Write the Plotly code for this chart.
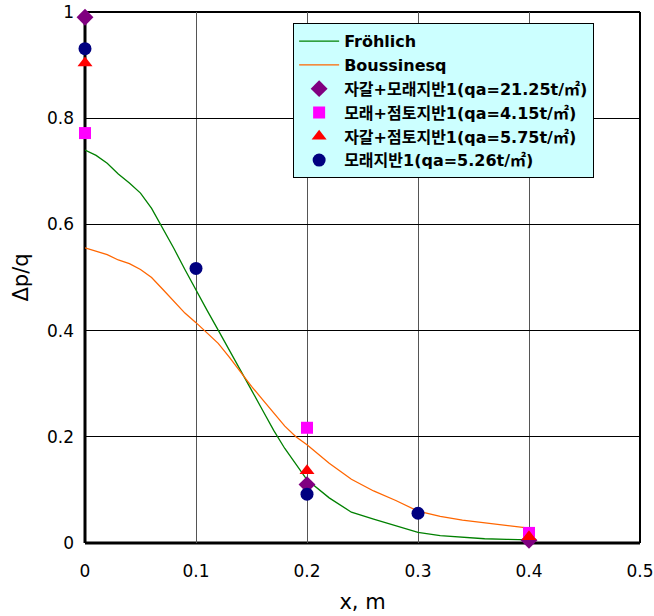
import plotly.graph_objects as go

# Theoretical curves
curve_x = [0, 0.01, 0.02, 0.03, 0.04, 0.05, 0.06, 0.07, 0.08, 0.09, 0.10, 0.11, 0.12, 0.13,
           0.14, 0.15, 0.16, 0.17, 0.18, 0.19, 0.20, 0.22, 0.24, 0.26, 0.28, 0.30, 0.32,
           0.34, 0.36, 0.38, 0.40]
frohlich = [0.74, 0.73, 0.715, 0.695, 0.678, 0.659, 0.630, 0.593, 0.555, 0.515, 0.476, 0.438,
            0.401, 0.364, 0.325, 0.288, 0.250, 0.212, 0.178, 0.148, 0.119, 0.085, 0.058,
            0.045, 0.032, 0.020, 0.014, 0.011, 0.008, 0.007, 0.006]
boussinesq = [0.556, 0.55, 0.543, 0.533, 0.526, 0.515, 0.500, 0.478, 0.455, 0.433, 0.415, 0.395,
              0.376, 0.350, 0.322, 0.295, 0.270, 0.245, 0.220, 0.200, 0.185, 0.150, 0.120,
              0.098, 0.080, 0.060, 0.050, 0.043, 0.038, 0.034, 0.028]

# Measured points
gravel_sand_x = [0, 0.2, 0.4]
gravel_sand_y = [0.99, 0.11, 0.005]
sand_clay_x = [0, 0.2, 0.4]
sand_clay_y = [0.772, 0.217, 0.019]
gravel_clay_x = [0, 0.2, 0.4]
gravel_clay_y = [0.904, 0.136, 0.012]
sand_x = [0, 0.1, 0.2, 0.3]
sand_y = [0.931, 0.517, 0.092, 0.056]

names = ["Fröhlich", "Boussinesq",
         "자갈+모래지반1(qa=21.25t/㎡)", "모래+점토지반1(qa=4.15t/㎡)",
         "자갈+점토지반1(qa=5.75t/㎡)", "모래지반1(qa=5.26t/㎡)"]

fig = go.Figure()
fig.add_trace(go.Scatter(x=curve_x, y=frohlich, mode="lines", name=names[0],
                         line=dict(color="#008000", width=1.3)))
fig.add_trace(go.Scatter(x=curve_x, y=boussinesq, mode="lines", name=names[1],
                         line=dict(color="#FF6600", width=1.3)))
fig.add_trace(go.Scatter(x=gravel_sand_x, y=gravel_sand_y, mode="markers", name=names[2],
                         marker=dict(symbol="diamond", size=13, color="#800080"), cliponaxis=False))
fig.add_trace(go.Scatter(x=sand_clay_x, y=sand_clay_y, mode="markers", name=names[3],
                         marker=dict(symbol="square", size=12, color="#FF00FF"), cliponaxis=False))
fig.add_trace(go.Scatter(x=gravel_clay_x, y=gravel_clay_y, mode="markers", name=names[4],
                         marker=dict(symbol="triangle-up", size=13, color="#FF0000"), cliponaxis=False))
fig.add_trace(go.Scatter(x=sand_x, y=sand_y, mode="markers", name=names[5],
                         marker=dict(symbol="circle", size=13, color="#000080"), cliponaxis=False))

tick_font = dict(family="DejaVu Sans", size=17, color="black")
title_font = dict(family="DejaVu Sans", size=21, color="black")
fig.update_layout(
    width=654, height=616,
    margin=dict(l=85, r=14, t=12, b=73),
    paper_bgcolor="white", plot_bgcolor="white",
    showlegend=True,
    legend=dict(x=0.375, y=0.979, xanchor="left", yanchor="top",
                bgcolor="#CCFFFF", bordercolor="black", borderwidth=1,
                font=dict(family="DejaVu Sans, Noto Sans CJK KR", size=16, color="black",
                          weight="bold"),
                tracegroupgap=0, itemwidth=40),
    xaxis=dict(range=[0, 0.5], dtick=0.1, tick0=0, showgrid=True, gridcolor="#555555",
               gridwidth=1, zeroline=False, showline=False, ticks="", automargin=False,
               tickfont=tick_font, ticklabelstandoff=16,
               title=dict(text="x, m", font=title_font, standoff=14)),
    yaxis=dict(range=[0, 1], dtick=0.2, tick0=0, showgrid=True, gridcolor="black",
               gridwidth=1, zeroline=False, showline=False, ticks="", automargin=False,
               tickfont=tick_font, ticklabelstandoff=10,
               title=dict(text="Δp/q", font=title_font, standoff=12)),
    shapes=[
        dict(type="line", xref="paper", yref="paper", x0=0, x1=1, y0=1, y1=1,
             line=dict(color="black", width=2), layer="below"),
        dict(type="line", xref="paper", yref="paper", x0=1, x1=1, y0=0, y1=1,
             line=dict(color="black", width=2), layer="below"),
        dict(type="line", xref="paper", yref="paper", x0=0, x1=0, y0=0, y1=1,
             line=dict(color="black", width=3), layer="below"),
        dict(type="line", xref="paper", yref="paper", x0=0, x1=1, y0=0, y1=0,
             line=dict(color="black", width=3), layer="below"),
    ],
)

fig.write_html("out.html")
